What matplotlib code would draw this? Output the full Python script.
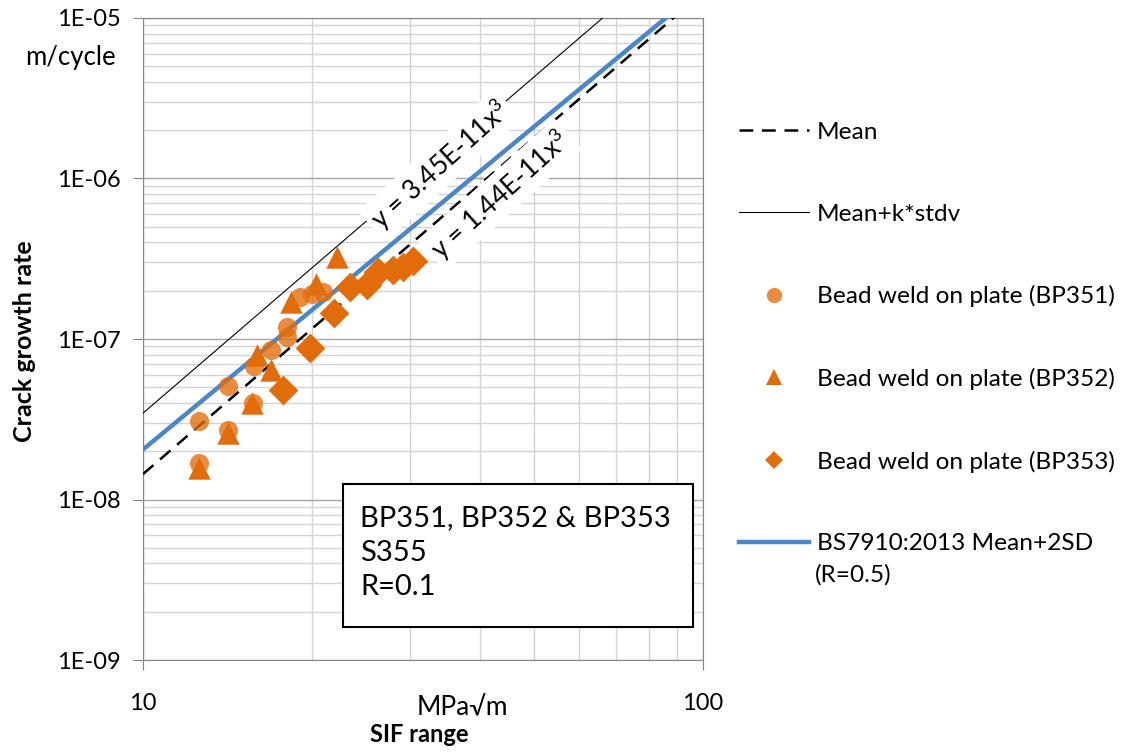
import numpy as np
import matplotlib
matplotlib.use("Agg")
import matplotlib.pyplot as plt
from matplotlib.lines import Line2D
from matplotlib.patches import Rectangle
from matplotlib.ticker import FixedLocator, FuncFormatter, LogLocator, NullFormatter

plt.rcParams['font.family'] = ['Lato', 'DejaVu Sans']
plt.rcParams['mathtext.fontset'] = 'custom'
plt.rcParams['mathtext.rm'] = 'Lato'
plt.rcParams['mathtext.it'] = 'Lato'

# SIF range (MPa√m) and crack growth rate (m/cycle) per specimen
bp351_dk = [12.6, 12.6, 14.2, 14.2, 15.7, 15.8, 16.9, 18.1, 18.1, 19.1, 20.0, 21.0]
bp351_dadn = [3.1e-8, 1.7e-8, 5.1e-8, 2.7e-8, 4.0e-8, 6.8e-8, 8.5e-8, 1.03e-7, 1.19e-7, 1.83e-7, 1.9e-7, 1.96e-7]

bp352_dk = [12.6, 14.2, 15.65, 16.0, 16.9, 18.4, 20.4, 22.2]
bp352_dadn = [1.57e-8, 2.6e-8, 3.99e-8, 7.95e-8, 6.4e-8, 1.70e-7, 2.2e-7, 3.24e-7]

bp353_dk = [17.8, 19.9, 21.9, 23.4, 25.1, 26.3, 28.0, 29.1, 30.4]
bp353_dadn = [4.8e-8, 8.8e-8, 1.45e-7, 2.11e-7, 2.17e-7, 2.61e-7, 2.69e-7, 2.81e-7, 3.06e-7]

# Paris law fits: da/dN = A * dK^m
mean_A, mean_m = 1.44e-11, 3
upper_A, upper_m = 3.45e-11, 3
bs_A, bs_m = 2.70e-11, 2.88

y_ticks = [1e-9, 1e-8, 1e-7, 1e-6, 1e-5]
x_ticks = [10, 100]

orange = '#E36C0A'
blue = '#4A86C8'
grey = '#868686'
fs = 17.6

fig = plt.figure(figsize=(11.24, 7.53), dpi=100)
ax = fig.add_axes([0.1272, 0.1235, 0.4982, 0.8526])

dk = np.logspace(1, 2, 200)
ax.plot(dk, mean_A * dk ** mean_m, color='black', lw=1.8, dashes=(5.5, 3.5), zorder=3)
ax.plot(dk, upper_A * dk ** upper_m, color='black', lw=0.8, zorder=3)
ax.plot(dk, bs_A * dk ** bs_m, color=blue, lw=3.2, zorder=3)

ax.scatter(bp351_dk, bp351_dadn, s=190, marker='o', color=orange, alpha=0.78, lw=0, zorder=4)
ax.scatter(bp352_dk, bp352_dadn, s=260, marker='^', color=orange, lw=0, zorder=5)
ax.scatter(bp353_dk, bp353_dadn, s=230, marker='D', color=orange, lw=0, zorder=5)

ax.set_xscale('log')
ax.set_yscale('log')
ax.set_xlim(10, 100)
ax.set_ylim(1e-9, 1e-5)

ax.xaxis.set_major_locator(FixedLocator(x_ticks))
ax.xaxis.set_major_formatter(FuncFormatter(lambda v, p: f"{v:g}"))
ax.xaxis.set_minor_locator(LogLocator(base=10, subs=np.arange(2, 10)))
ax.xaxis.set_minor_formatter(NullFormatter())
ax.yaxis.set_major_locator(FixedLocator(y_ticks))
ax.yaxis.set_major_formatter(FuncFormatter(lambda v, p: f"1E-{-int(round(np.log10(v))):02d}"))
ax.yaxis.set_minor_locator(LogLocator(base=10, subs=np.arange(2, 10)))
ax.yaxis.set_minor_formatter(NullFormatter())

ax.grid(True, which='major', color='#A6A6A6', lw=1, zorder=0)
ax.grid(True, which='minor', color='#D4D4D4', lw=1, zorder=0)
ax.set_axisbelow(True)
for sp in ax.spines.values():
    sp.set_color(grey)
ax.tick_params(which='major', direction='out', length=7, color=grey, labelsize=17)
ax.tick_params(which='minor', length=0)
ax.tick_params(axis='x', pad=17)
ax.tick_params(axis='y', pad=9)

# trendline equations along the fitted lines
bbox_w = dict(facecolor='white', edgecolor='none', pad=3)
ax.text(33.9, 1.21e-6, "y = 3.45E-11x$^{3}$", rotation=42, rotation_mode='anchor',
        ha='center', va='center', fontsize=19, bbox=bbox_w, zorder=6)
ax.text(43.4, 7.9e-7, "y = 1.44E-11x$^{3}$", rotation=42, rotation_mode='anchor',
        ha='center', va='center', fontsize=19, bbox=bbox_w, zorder=6)

# specimen info box
ax.add_patch(Rectangle((0.357, 0.0514), 0.625, 0.2226, transform=ax.transAxes,
                       facecolor='white', edgecolor='black', lw=1.5, zorder=7))
ax.text(0.3875, 0.241, "BP351, BP352 & BP353\nS355\nR=0.1", transform=ax.transAxes,
        ha='left', va='top', fontsize=21, linespacing=1.4, zorder=8)

fig.text(0.0623, 0.924, "m/cycle", ha='center', va='center', fontsize=18.5)
fig.text(0.022, 0.547, "Crack growth rate", rotation=90, ha='center', va='center',
         fontsize=18, fontweight='bold')
fig.text(0.411, 0.06, "MPa√m", ha='center', va='center', fontsize=19)
fig.text(0.373, 0.024, "SIF range", ha='center', va='center', fontsize=17, fontweight='bold')

handles = [
    Line2D([], [], color='black', lw=1.8, dashes=(5.5, 3.5)),
    Line2D([], [], color='black', lw=0.8),
    Line2D([], [], color=orange, alpha=0.78, marker='o', ls='none', markersize=11, markeredgewidth=0),
    Line2D([], [], color=orange, marker='^', ls='none', markersize=11, markeredgewidth=0),
    Line2D([], [], color=orange, marker='D', ls='none', markersize=9, markeredgewidth=0),
    Line2D([], [], color=blue, lw=3.2),
]
labels = ["Mean", "Mean+k*stdv", "Bead weld on plate (BP351)", "Bead weld on plate (BP352)",
          "Bead weld on plate (BP353)", "BS7910:2013 Mean+2SD"]
fig.legend(handles, labels, loc='upper left', bbox_to_anchor=(0.6578, 0.8384), frameon=False,
           fontsize=fs, handlelength=2.83, handletextpad=0.33, labelspacing=2.48,
           numpoints=1, borderaxespad=0, borderpad=0)
fig.text(0.7251, 0.2364, "(R=0.5)", ha='left', va='center', fontsize=fs)

fig.savefig("out.png", dpi=100)
